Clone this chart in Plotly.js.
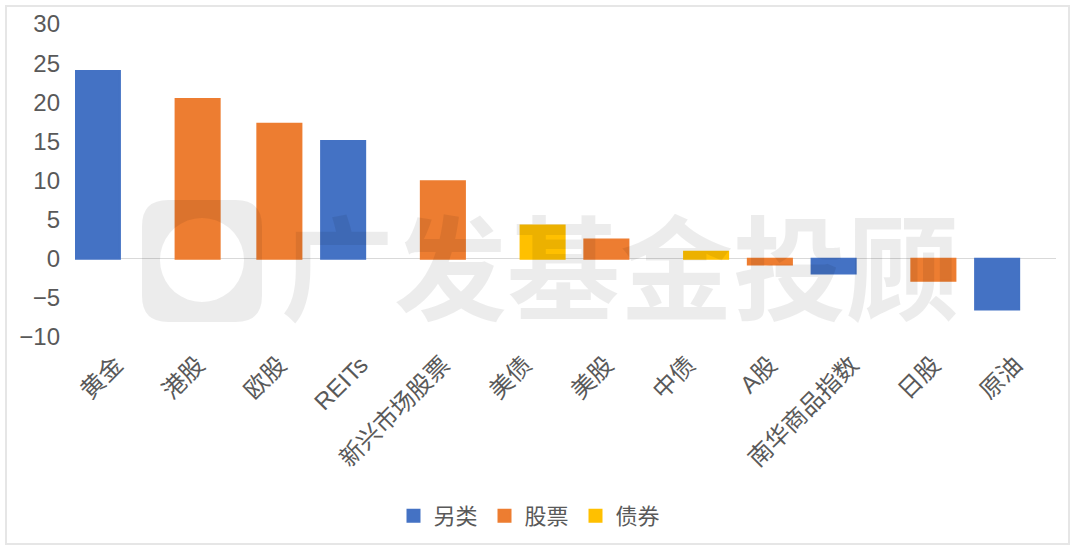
<!DOCTYPE html>
<html>
<head>
<meta charset="utf-8">
<script src="https://cdn.plot.ly/plotly-3.0.1.min.js"></script>
<style>
  html, body { margin: 0; padding: 0; background: #ffffff; }
  #wrap { position: relative; width: 1080px; height: 554px; overflow: hidden; }
  #frame { position: absolute; left: 5px; top: 5px; width: 1061px; height: 536px; border: 2px solid #e6e6e6; pointer-events: none; }
  #chart { position: absolute; left: 0; top: 0; width: 1080px; height: 554px; }
</style>
</head>
<body>
<div id="wrap">
  <div id="frame"></div>
  <div id="chart"></div>
</div>
<script>
// ---- data ----
const categories = ["黄金", "港股", "欧股", "REITs", "新兴市场股票", "美债", "美股", "中债", "A股", "南华商品指数", "日股", "原油"];
const seriesNames = ["另类", "股票", "债券"];
const altValues   = [24.0, null, null, 15.05, null, null, null, null, null, -1.9, null, -6.5];
const stockValues = [null, 20.4, 17.25, null, 9.9, null, 2.45, null, -0.75, null, -2.8, null];
const bondValues  = [null, null, null, null, null, 4.25, null, 0.9, null, null, null, null];
const yTickVals = [-10, -5, 0, 5, 10, 15, 20, 25, 30];
const watermarkText = "广发基金投顾";

// ---- style ----
const colors = ["#4472C4", "#ED7D31", "#FFC000"];
const barWidth = 0.539;
const shift = 0.22;
const offsets = [-shift - barWidth / 2, -barWidth / 2, shift - barWidth / 2];
const fontFamily = "Liberation Sans, Arial, 'Noto Sans CJK SC', sans-serif";
const textColor = "#595959";

const seriesValues = [altValues, stockValues, bondValues];
const traces = seriesValues.map((vals, i) => ({
  type: "bar",
  name: seriesNames[i],
  x: categories,
  y: vals,
  width: barWidth,
  offset: offsets[i],
  marker: { color: colors[i], line: { width: 2, color: colors[i] } },
  hoverinfo: "x+y+name"
}));

// plot area in pixels
const L = 75, R = 1056, T = 24, B = 337;
const px = x => (x - L) / (R - L);
const py = y => (B - y) / (B - T);

// watermark logo (rounded square ring) in paper coords
function logoPath() {
  const x0 = 142, x1 = 262, y0 = 200, y1 = 322, r = 26;
  const cx = 202, cy = 260, cr = 42;
  const P = (x, y) => px(x).toFixed(5) + "," + py(y).toFixed(5);
  let d = "M" + P(x0 + r, y0) + " L" + P(x1 - r, y0) + " Q" + P(x1, y0) + " " + P(x1, y0 + r) +
          " L" + P(x1, y1 - r) + " Q" + P(x1, y1) + " " + P(x1 - r, y1) +
          " L" + P(x0 + r, y1) + " Q" + P(x0, y1) + " " + P(x0, y1 - r) +
          " L" + P(x0, y0 + r) + " Q" + P(x0, y0) + " " + P(x0 + r, y0) + " Z";
  const n = 36;
  for (let k = 0; k <= n; k++) {
    const a = -2 * Math.PI * k / n;
    d += (k === 0 ? " M" : " L") + P(cx + cr * Math.cos(a), cy + cr * Math.sin(a));
  }
  d += " Z";
  return d;
}

const layout = {
  width: 1080,
  height: 554,
  margin: { l: L, r: 1080 - R, t: T, b: 554 - B, pad: 0 },
  paper_bgcolor: "rgba(0,0,0,0)",
  plot_bgcolor: "rgba(0,0,0,0)",
  barmode: "overlay",
  showlegend: true,
  font: { family: fontFamily, color: textColor, size: 22 },
  xaxis: {
    type: "category",
    range: [-0.5, categories.length - 0.5],
    tickangle: -45,
    ticks: "",
    showgrid: false,
    zeroline: false,
    showline: false,
    ticklabelstandoff: 8,
    tickfont: { size: 24, color: textColor, family: fontFamily },
    fixedrange: true
  },
  yaxis: {
    range: [-10, 30],
    tickvals: yTickVals,
    ticks: "",
    showgrid: false,
    zeroline: true,
    zerolinecolor: "#d9d9d9",
    zerolinewidth: 1,
    showline: false,
    ticklabelstandoff: 14,
    tickfont: { size: 24, color: textColor, family: fontFamily },
    fixedrange: true
  },
  legend: {
    orientation: "h",
    x: px(530),
    xanchor: "center",
    y: py(516),
    yanchor: "middle",
    entrywidth: 46,
    entrywidthmode: "pixels",
    itemwidth: 30,
    font: { size: 22, color: textColor, family: fontFamily },
    traceorder: "normal",
    itemclick: false,
    itemdoubleclick: false
  },
  annotations: [{
    xref: "paper", yref: "paper",
    x: px(620), y: py(262),
    xanchor: "center", yanchor: "middle",
    text: "<b>" + watermarkText + "</b>",
    showarrow: false,
    font: { family: "'Noto Sans CJK SC', sans-serif", size: 113, color: "rgba(0,0,0,0.075)" }
  }],
  shapes: [{
    type: "path",
    xref: "paper", yref: "paper",
    path: logoPath(),
    fillcolor: "rgba(0,0,0,0.075)",
    fillrule: "evenodd",
    line: { width: 0 },
    layer: "above"
  }]
};

Plotly.newPlot("chart", traces, layout, { displayModeBar: false, staticPlot: true });
</script>
</body>
</html>
